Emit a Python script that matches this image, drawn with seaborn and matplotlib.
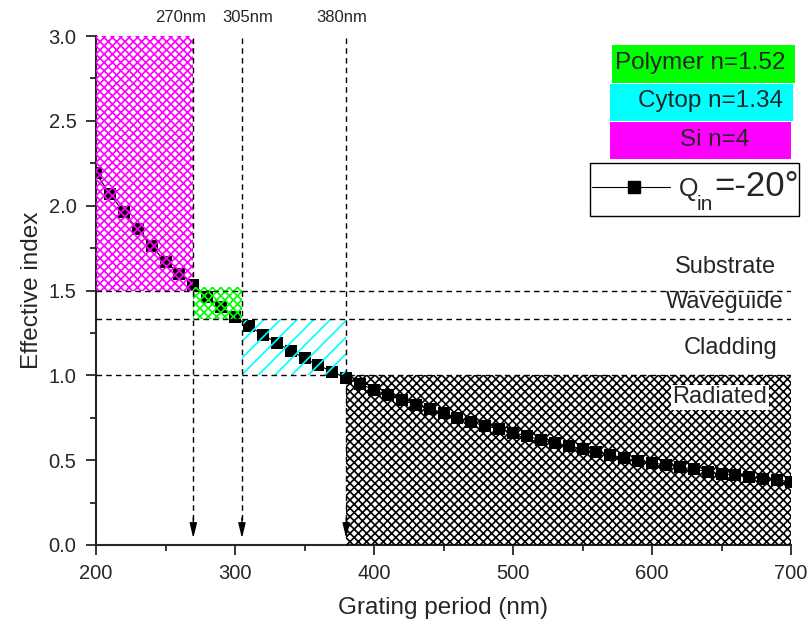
import numpy as np
import pandas as pd
import matplotlib
matplotlib.use("Agg")
import matplotlib.pyplot as plt
import seaborn as sns
from matplotlib.patches import Rectangle
from matplotlib.lines import Line2D

# ---- data ----
period = list(range(200, 701, 10))
neff = [2.19, 2.07, 1.96, 1.86, 1.76, 1.67, 1.60, 1.535, 1.46, 1.40,
        1.345, 1.29, 1.24, 1.19, 1.145, 1.10, 1.06, 1.02, 0.985, 0.949,
        0.914, 0.885, 0.855, 0.826, 0.802, 0.778, 0.749, 0.725, 0.702, 0.684,
        0.661, 0.643, 0.619, 0.602, 0.584, 0.566, 0.549, 0.531, 0.513, 0.496,
        0.484, 0.472, 0.46, 0.448, 0.431, 0.419, 0.413, 0.401, 0.39, 0.384,
        0.372]
cutoffs = [270, 305, 380]
cutoff_labels = ["270nm", "305nm", "380nm"]
cutoff_label_x = [261, 309.5, 377]
n_levels = [1.5, 1.33, 1.0]
region_names = ["Substrate", "Waveguide", "Cladding", "Radiated"]
region_y = [1.64, 1.43, 1.16, 0.87]
materials = ["Polymer n=1.52", "Cytop n=1.34", "Si n=4"]
material_colors = ["#00FF00", "#00FFFF", "#FF00FF"]
series_label = "=-20°"

df = pd.DataFrame({"period": period, "neff": neff})

sns.set_style("ticks")
plt.rcParams["font.family"] = ["Liberation Sans", "DejaVu Sans"]
plt.rcParams["hatch.linewidth"] = 1.2

W, H = 807, 630
fig = plt.figure(figsize=(W / 100, H / 100), dpi=100)
ax = fig.add_axes([96 / W, 1 - 545 / H, (791 - 96) / W, (545 - 36) / H])

sns.lineplot(data=df, x="period", y="neff", ax=ax, color="black", lw=0.8,
             marker="s", markersize=8, markeredgewidth=0, zorder=2)

# hatched regions
ax.add_patch(Rectangle((200, 1.5), 70, 1.5, fill=False, hatch="xxxx",
                       edgecolor="#FF00FF", lw=0, zorder=3))
ax.add_patch(Rectangle((270, 1.33), 35, 0.19, fill=False, hatch="xxxx",
                       edgecolor="#00FF00", lw=0, zorder=3))
ax.add_patch(Rectangle((305, 1.0), 75, 0.33, fill=False, hatch="//",
                       edgecolor="#00FFFF", lw=0, zorder=3))
ax.add_patch(Rectangle((380, 0.0), 320, 1.0, fill=False, hatch="xxxx",
                       edgecolor="black", lw=0, zorder=3))

# horizontal dashed lines
for lv in n_levels:
    ax.plot([200, 700], [lv, lv], ls=(0, (4, 3)), color="black", lw=1, zorder=4)

# vertical dashed lines with arrows
for c, lab, lx in zip(cutoffs, cutoff_labels, cutoff_label_x):
    ax.plot([c, c], [0.15, 3.0], ls=(0, (4, 3)), color="black", lw=1,
            zorder=4, clip_on=False)
    ax.annotate("", xy=(c, 0.04), xytext=(c, 0.16),
                arrowprops=dict(arrowstyle="-|>,head_length=0.9,head_width=0.22",
                                color="black", lw=1, shrinkA=0, shrinkB=0),
                zorder=5)
    ax.text(lx, 1.022, lab, transform=ax.get_xaxis_transform(),
            ha="center", va="bottom", fontsize=12)

# region labels (right edges)
region_right = [689.5, 694.5, 690, 683]
for i, (name, yy, xr) in enumerate(zip(region_names, region_y, region_right)):
    kw = {}
    if i == 3:
        kw = dict(bbox=dict(facecolor="white", edgecolor="none", pad=1), zorder=6)
    ax.text(xr, yy, name, ha="right", va="center", fontsize=17, **kw)

ax.set_xlim(200, 700)
ax.set_ylim(0, 3.0)
ax.set_xticks(np.arange(200, 701, 100))
ax.set_xticks(np.arange(250, 701, 100), minor=True)
ax.set_yticks(np.arange(0, 3.01, 0.5))
ax.set_yticks(np.arange(0.25, 3.0, 0.5), minor=True)
ax.yaxis.set_major_formatter(matplotlib.ticker.FormatStrFormatter("%.1f"))
ax.tick_params(which="major", length=7, width=1.3, labelsize=14.5,
               direction="out", pad=7)
ax.tick_params(which="minor", length=4, width=1.3, direction="out")
for s in ["left", "bottom"]:
    ax.spines[s].set_linewidth(1.5)
sns.despine(ax=ax)
ax.set_xlabel("Grating period (nm)", fontsize=17.5, labelpad=10)
ax.set_ylabel("Effective index", fontsize=17.5, labelpad=4)


def fx(px):
    return px / W


def fy(py):
    return 1 - py / H


# material color boxes
boxes = [(612, 45, 795, 83), (610, 84, 793, 121), (610, 122, 791, 159)]
text_x = [700, 711, 715]
for (x0, y0, x1, y1), col, name, tx in zip(boxes, material_colors, materials, text_x):
    fig.patches.append(Rectangle((fx(x0), fy(y1)), fx(x1) - fx(x0), fy(y0) - fy(y1),
                                 transform=fig.transFigure, facecolor=col,
                                 edgecolor="none"))
    fig.text(fx(tx), fy((y0 + y1) / 2 - 1), name, ha="center", va="center",
             fontsize=17.5)

# series legend box
fig.patches.append(Rectangle((fx(590), fy(216)), fx(799) - fx(590), fy(163) - fy(216),
                             transform=fig.transFigure, facecolor="white",
                             edgecolor="black", lw=1))
fig.lines.append(Line2D([fx(592), fx(670)], [fy(187), fy(187)],
                        transform=fig.transFigure, color="black", lw=0.8))
fig.lines.append(Line2D([fx(634)], [fy(187)], transform=fig.transFigure,
                        color="black", marker="s", markersize=8, lw=0))
fig.text(fx(679), fy(189), "Q", ha="left", va="center", fontsize=18)
fig.text(fx(697), fy(204), "in", ha="left", va="center", fontsize=15)
fig.text(fx(714), fy(186), series_label, ha="left", va="center", fontsize=25)

fig.savefig("out.png", dpi=100)
